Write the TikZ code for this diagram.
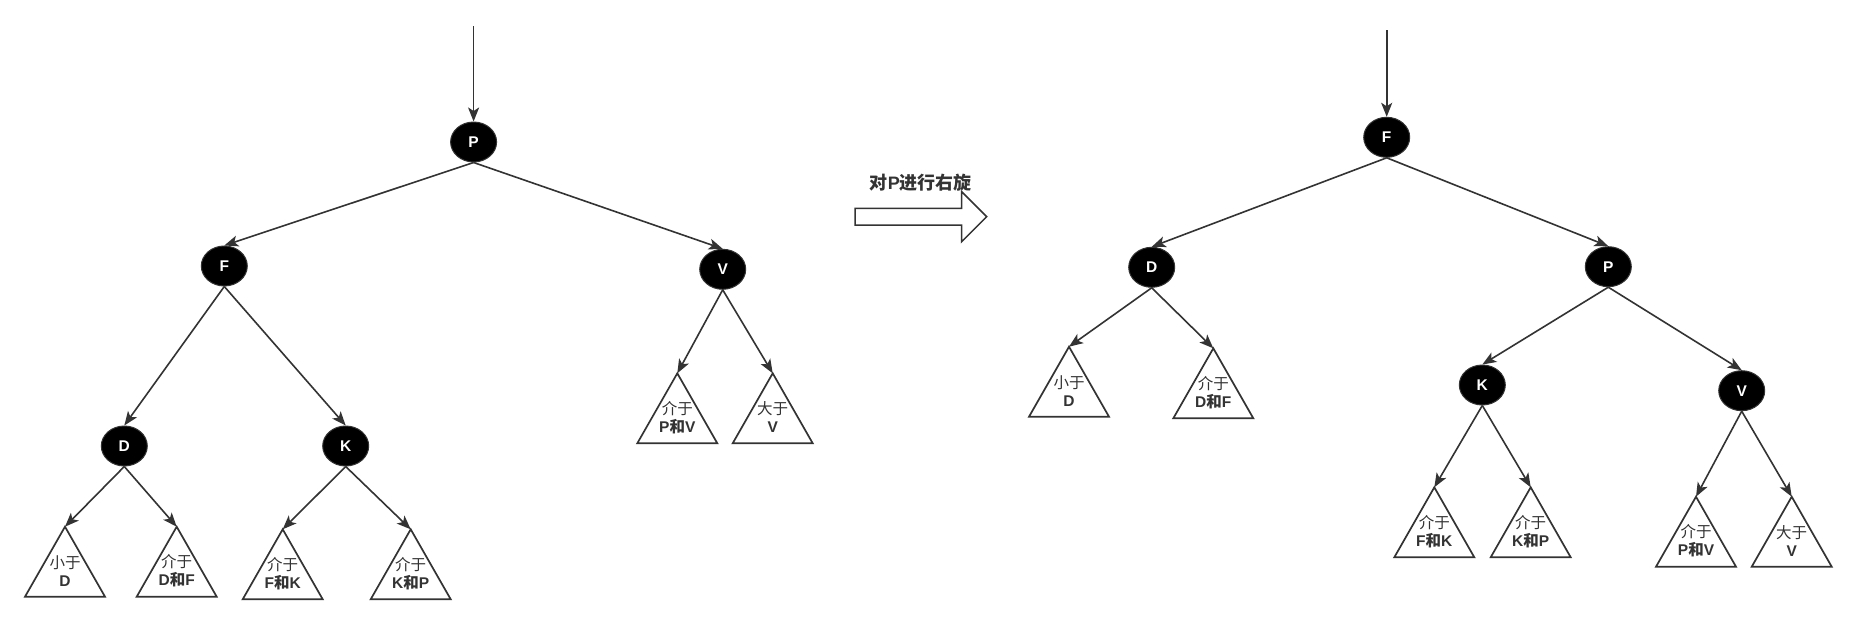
\documentclass[tikz,border=0pt]{standalone}
\usepackage{fontspec}
\setmainfont{Liberation Sans}
\newfontfamily\cjk{Noto Sans CJK SC}
\usetikzlibrary{shapes.geometric,arrows.meta,calc}
\definecolor{ln}{HTML}{333333}
\newcommand\mytri[5]{%
  \coordinate (#1) at (#2,#3);
  \draw[tri] (#1) -- ++(40,70) -- ++(-80,0) -- cycle;
  \node[ttext] (#1t) at ($(#1)+(0,44)$) {{\cjk #4}\\\textbf{#5}};
}
\begin{document}
\begin{tikzpicture}[x=1pt,y=-1pt,
  rb/.style={ellipse,fill=black,draw=ln,line width=1pt,minimum width=46pt,minimum height=40pt,inner sep=0pt,text=white,font=\bfseries\fontsize{15.5}{15.5}\selectfont},
  edge/.style={draw=ln,line width=1.6pt,-{Stealth[length=14pt,width=11pt,inset=3.5pt]}},
  tri/.style={draw=ln,line width=1.7pt,fill=white,line join=miter},
  ttext/.style={align=center,text=ln,font=\fontsize{15.5}{18}\selectfont,inner sep=0pt},
]
\useasboundingbox (0,0) rectangle (1857,624);
\fill[white] (0,0) rectangle (1857,624);

% ---------- left tree ----------
\node[rb] (P1) at (473.6,142) {P};
\node[rb] (F1) at (224.3,266) {F};
\node[rb] (V1) at (722.7,269.3) {V};
\node[rb] (D1) at (124.3,446) {D};
\node[rb] (K1) at (345.7,446) {K};
\coordinate (in1) at (473.6,26);

\mytri{a1}{65}{526.7}{小于}{D}
\mytri{a2}{176.7}{526.7}{介于}{D{\cjk 和}F}
\mytri{a3}{282.7}{529.3}{介于}{F{\cjk 和}K}
\mytri{a4}{410.7}{529.3}{介于}{K{\cjk 和}P}
\mytri{a5}{677.3}{373.3}{介于}{P{\cjk 和}V}
\mytri{a6}{772.7}{373.3}{大于}{V}

\draw[edge] (in1) -- (P1.north);
\draw[edge] (P1.south) -- (F1.north);
\draw[edge] (P1.south) -- (V1.north);
\draw[edge] (F1.south) -- (D1.north);
\draw[edge] (F1.south) -- (K1.north);
\draw[edge] (D1.south) -- (a1);
\draw[edge] (D1.south) -- (a2);
\draw[edge] (K1.south) -- (a3);
\draw[edge] (K1.south) -- (a4);
\draw[edge] (V1.south) -- (a5);
\draw[edge] (V1.south) -- (a6);

% ---------- middle arrow ----------
\node[text=ln,font=\bfseries\fontsize{18}{18}\selectfont,inner sep=0pt] (title) at (920.8,183) {{\cjk 对}P{\cjk 进行右旋}};
\draw[tri,line width=1.5pt] (855,208.3) -- (961.7,208.3) -- (961.7,191.7) -- (986.7,216.7)
  -- (961.7,241.7) -- (961.7,225) -- (855,225) -- cycle;

% ---------- right tree ----------
\node[rb] (F2) at (1386.7,137.3) {F};
\node[rb] (D2) at (1151.7,267.3) {D};
\node[rb] (P2) at (1608.3,266.7) {P};
\node[rb] (K2) at (1482.3,385) {K};
\node[rb] (V2) at (1741.7,390.7) {V};
\coordinate (in2) at (1386.7,30);

\mytri{b1}{1069}{346.7}{小于}{D}
\mytri{b2}{1213.3}{348.3}{介于}{D{\cjk 和}F}
\mytri{b3}{1434.3}{487.3}{介于}{F{\cjk 和}K}
\mytri{b4}{1530.7}{487.3}{介于}{K{\cjk 和}P}
\mytri{b5}{1696}{496.7}{介于}{P{\cjk 和}V}
\mytri{b6}{1791.7}{496.7}{大于}{V}

\draw[edge] (in2) -- (F2.north);
\draw[edge] (F2.south) -- (D2.north);
\draw[edge] (F2.south) -- (P2.north);
\draw[edge] (D2.south) -- (b1);
\draw[edge] (D2.south) -- (b2);
\draw[edge] (P2.south) -- (K2.north);
\draw[edge] (P2.south) -- (V2.north);
\draw[edge] (K2.south) -- (b3);
\draw[edge] (K2.south) -- (b4);
\draw[edge] (V2.south) -- (b5);
\draw[edge] (V2.south) -- (b6);
\end{tikzpicture}
\end{document}
